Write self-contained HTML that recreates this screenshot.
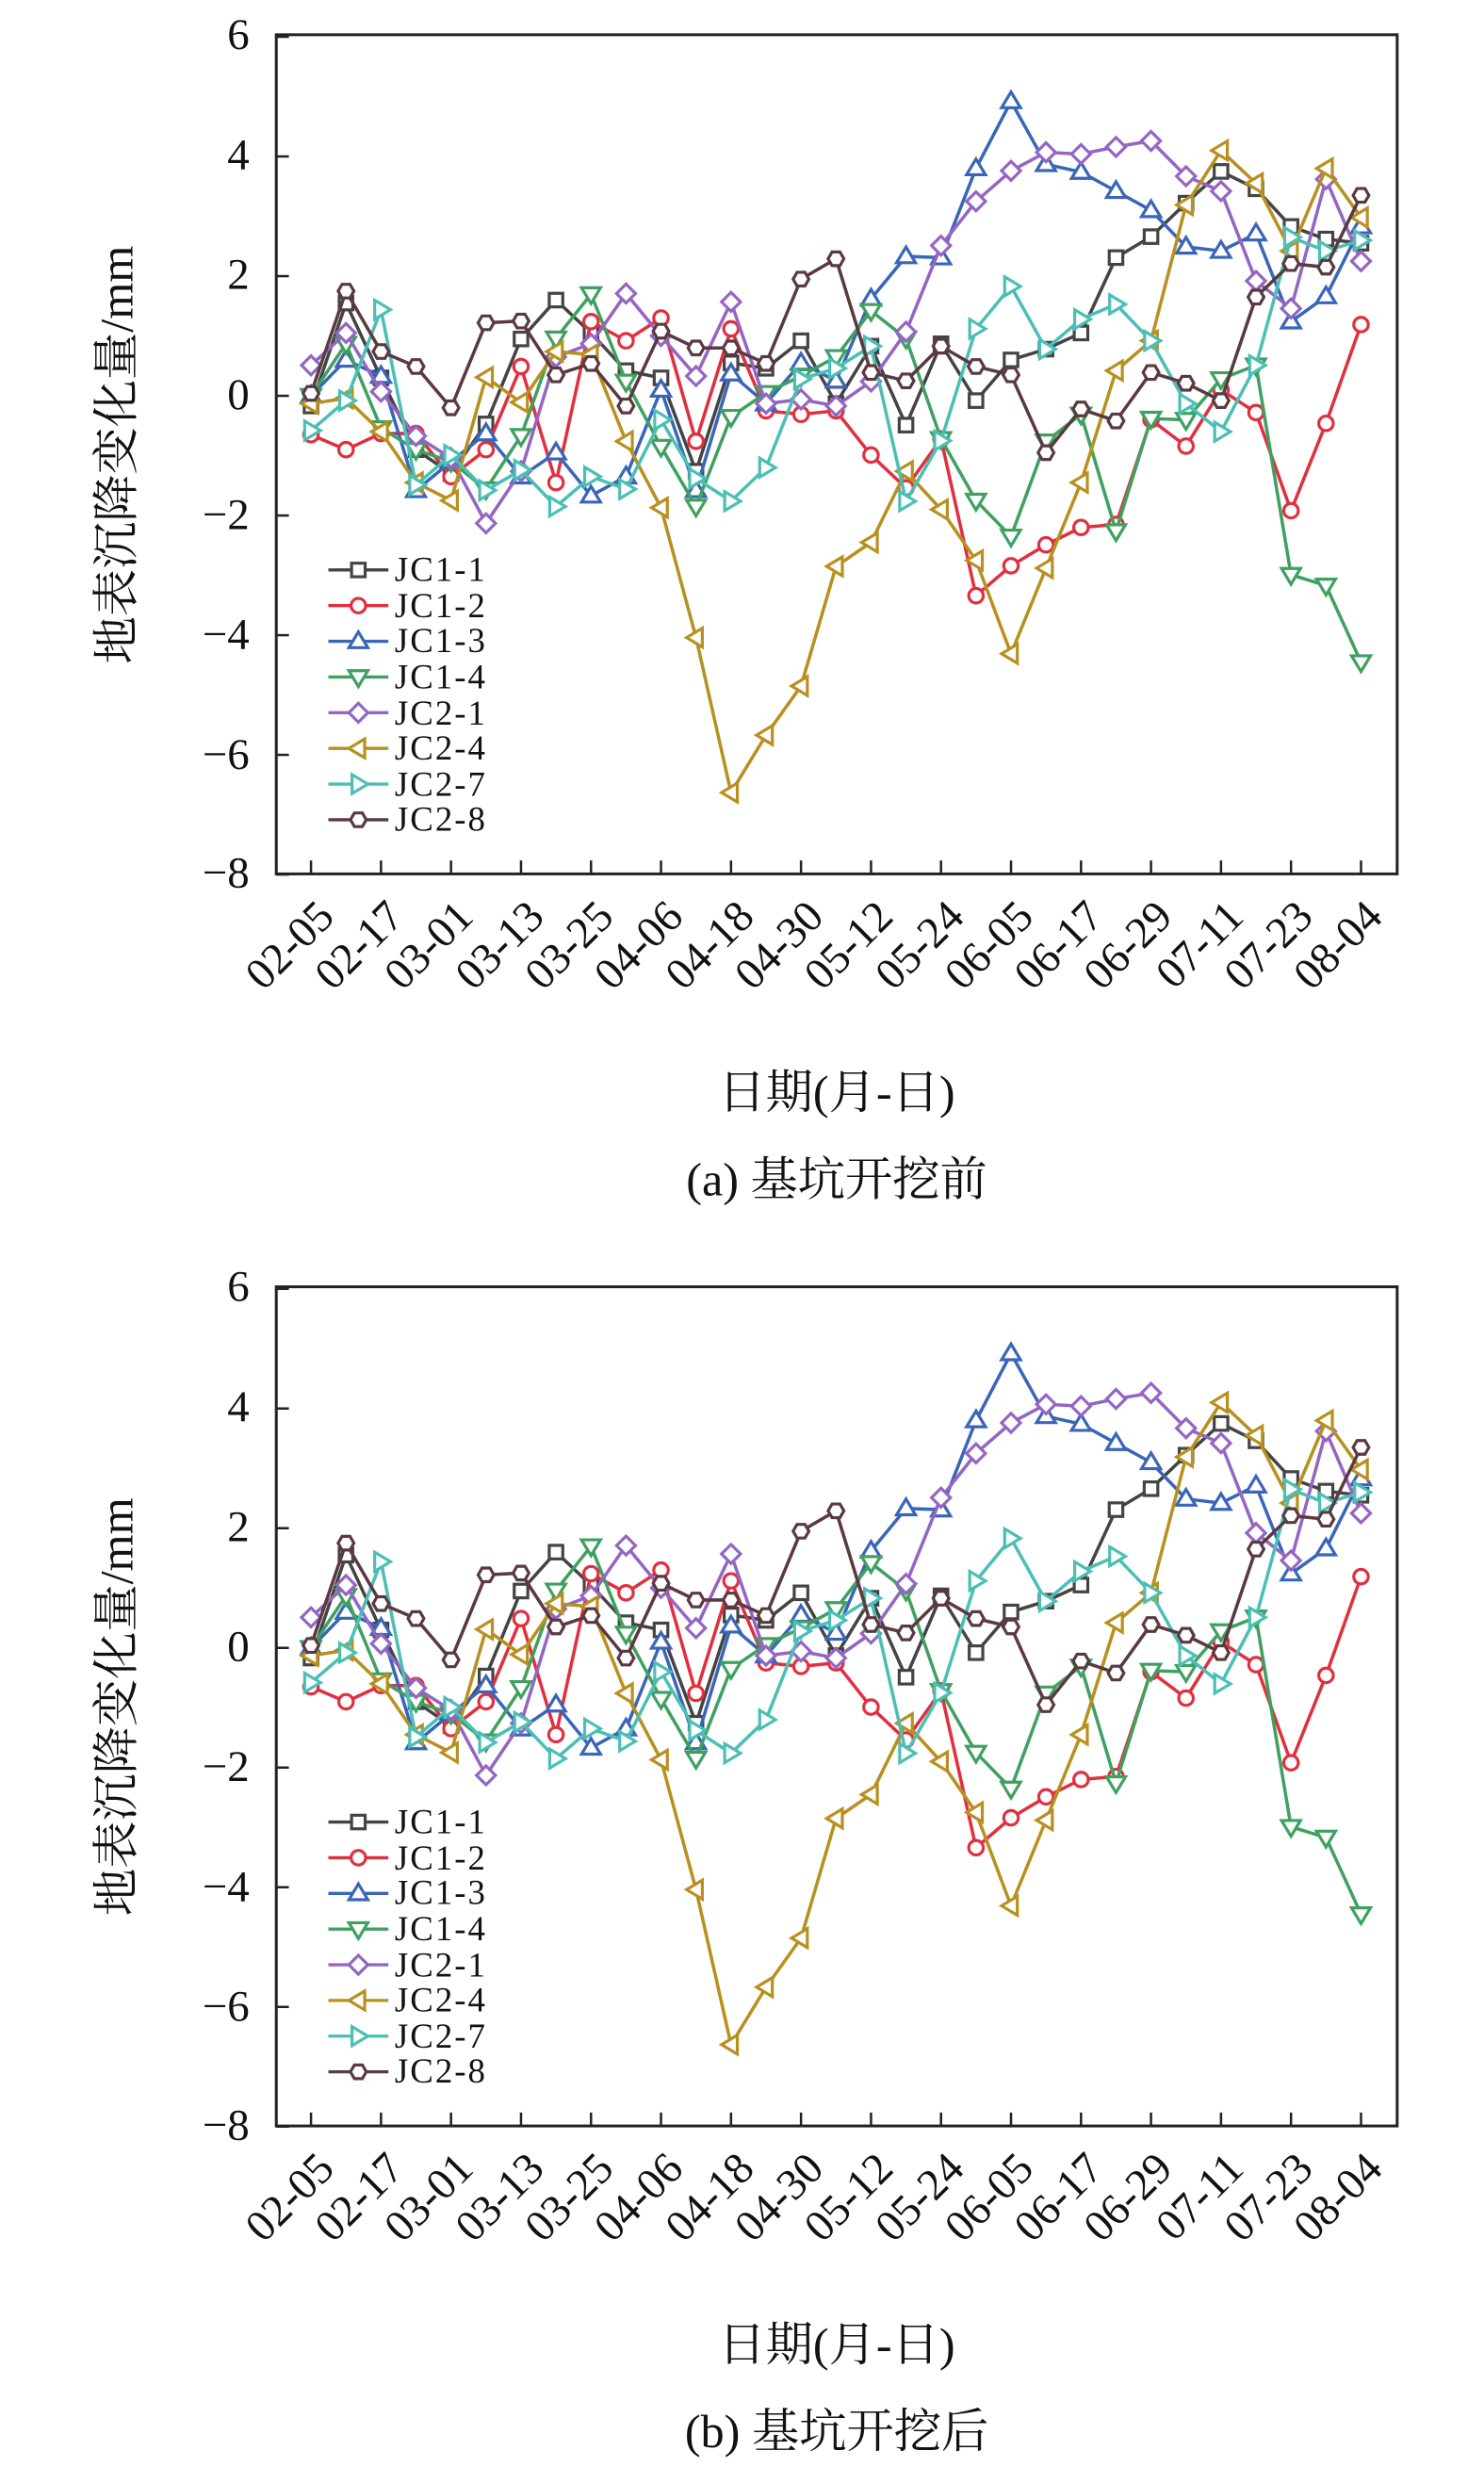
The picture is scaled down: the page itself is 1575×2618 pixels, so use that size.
<!DOCTYPE html>
<html><head><meta charset="utf-8">
<style>
html,body{margin:0;padding:0;background:#fff;}
svg{display:block;}
text{font-family:"Liberation Serif","Noto Serif CJK SC","Noto Sans CJK SC",serif;fill:#111;}
</style></head>
<body>
<svg id="s" width="1575" height="2618" viewBox="0 0 940 1562.5" xmlns="http://www.w3.org/2000/svg">
<g id="A">
<rect x="175" y="22" width="710" height="531.5" fill="none" stroke="#222" stroke-width="1.8"/>
<g font-size="28" text-anchor="end">
<text x="158" y="31">6</text><text x="158" y="107">4</text><text x="158" y="183">2</text><text x="158" y="259">0</text>
<text x="158" y="335">−2</text><text x="158" y="411">−4</text><text x="158" y="487">−6</text><text x="158" y="562">−8</text>
</g>
<g font-size="28" text-anchor="end">
<text transform="translate(213,582) rotate(-45)">02-05</text>
<text transform="translate(257,582) rotate(-45)">02-17</text>
<text transform="translate(301,582) rotate(-45)">03-01</text>
<text transform="translate(346,582) rotate(-45)">03-13</text>
<text transform="translate(390,582) rotate(-45)">03-25</text>
<text transform="translate(434,582) rotate(-45)">04-06</text>
<text transform="translate(479,582) rotate(-45)">04-18</text>
<text transform="translate(523,582) rotate(-45)">04-30</text>
<text transform="translate(567,582) rotate(-45)">05-12</text>
<text transform="translate(612,582) rotate(-45)">05-24</text>
<text transform="translate(656,582) rotate(-45)">06-05</text>
<text transform="translate(700,582) rotate(-45)">06-17</text>
<text transform="translate(744,582) rotate(-45)">06-29</text>
<text transform="translate(789,582) rotate(-45)">07-11</text>
<text transform="translate(833,582) rotate(-45)">07-23</text>
<text transform="translate(877,582) rotate(-45)">08-04</text>
</g>
<text transform="translate(84,288) rotate(-90)" font-size="30" text-anchor="middle">地表沉降变化量/mm</text>
<text x="530" y="702" font-size="30" text-anchor="middle">日期(月-日)</text>
<g font-size="22" letter-spacing="1.2">
<text x="250" y="368">JC1-1</text><text x="250" y="391">JC1-2</text><text x="250" y="413">JC1-3</text><text x="250" y="436">JC1-4</text>
<text x="250" y="459">JC2-1</text><text x="250" y="481">JC2-4</text><text x="250" y="504">JC2-7</text><text x="250" y="526">JC2-8</text>
</g>
</g>
<text x="530" y="757" font-size="30" text-anchor="middle">(a) 基坑开挖前</text>
<g transform="translate(0,793)">
<rect x="175" y="22" width="710" height="531.5" fill="none" stroke="#222" stroke-width="1.8"/>
<g font-size="28" text-anchor="end">
<text x="158" y="31">6</text><text x="158" y="107">4</text><text x="158" y="183">2</text><text x="158" y="259">0</text>
<text x="158" y="335">−2</text><text x="158" y="411">−4</text><text x="158" y="487">−6</text><text x="158" y="562">−8</text>
</g>
<g font-size="28" text-anchor="end">
<text transform="translate(213,582) rotate(-45)">02-05</text>
<text transform="translate(257,582) rotate(-45)">02-17</text>
<text transform="translate(301,582) rotate(-45)">03-01</text>
<text transform="translate(346,582) rotate(-45)">03-13</text>
<text transform="translate(390,582) rotate(-45)">03-25</text>
<text transform="translate(434,582) rotate(-45)">04-06</text>
<text transform="translate(479,582) rotate(-45)">04-18</text>
<text transform="translate(523,582) rotate(-45)">04-30</text>
<text transform="translate(567,582) rotate(-45)">05-12</text>
<text transform="translate(612,582) rotate(-45)">05-24</text>
<text transform="translate(656,582) rotate(-45)">06-05</text>
<text transform="translate(700,582) rotate(-45)">06-17</text>
<text transform="translate(744,582) rotate(-45)">06-29</text>
<text transform="translate(789,582) rotate(-45)">07-11</text>
<text transform="translate(833,582) rotate(-45)">07-23</text>
<text transform="translate(877,582) rotate(-45)">08-04</text>
</g>
<text transform="translate(84,288) rotate(-90)" font-size="30" text-anchor="middle">地表沉降变化量/mm</text>
<text x="530" y="702" font-size="30" text-anchor="middle">日期(月-日)</text>
<g font-size="22" letter-spacing="1.2">
<text x="250" y="368">JC1-1</text><text x="250" y="391">JC1-2</text><text x="250" y="413">JC1-3</text><text x="250" y="436">JC1-4</text>
<text x="250" y="459">JC2-1</text><text x="250" y="481">JC2-4</text><text x="250" y="504">JC2-7</text><text x="250" y="526">JC2-8</text>
</g>
</g>
<text x="530" y="1550" font-size="30" text-anchor="middle">(b) 基坑开挖后</text>
<g id="plots"></g>
</svg>
<script>
var S=[
["#444","sq",[-0.17,1.55,0.3,-0.9,-1.3,-0.47,0.95,1.6,1.05,0.42,0.3,-1.26,0.55,0.46,0.92,-0.13,0.83,-0.49,0.87,-0.08,0.6,0.78,1.05,2.31,2.66,3.22,3.75,3.46,2.83,2.62,2.55]],
["#e0303f","ci",[-0.65,-0.9,-0.63,-0.63,-1.35,-0.9,0.49,-1.45,1.24,0.92,1.3,-0.76,1.12,-0.25,-0.31,-0.25,-0.99,-1.54,-0.72,-3.34,-2.84,-2.49,-2.2,-2.15,-0.4,-0.84,0.1,-0.28,-1.92,-0.46,1.19]],
["#3a65b8","tu",[0,0.6,0.33,-1.58,-1.1,-0.63,-1.35,-0.95,-1.67,-1.35,0.1,-1.58,0.37,-0.13,0.55,0.25,1.62,2.33,2.31,3.8,4.92,3.87,3.74,3.42,3.1,2.49,2.42,2.71,1.24,1.66,2.83]],
["#3fa060","td",[0,0.87,-0.54,-0.9,-1.1,-1.56,-0.67,0.96,1.7,0.24,-0.85,-1.85,-0.35,0.05,0.33,0.65,1.42,0.96,-0.72,-1.75,-2.35,-0.76,-0.31,-2.26,-0.38,-0.4,0.28,0.51,-2.99,-3.17,-4.45]],
["#9466c2","di",[0.51,1.05,0.07,-0.67,-1.04,-2.13,-1.26,0.65,0.87,1.71,1.0,0.33,1.57,-0.13,-0.06,-0.17,0.24,1.07,2.51,3.25,3.76,4.07,4.04,4.16,4.26,3.67,3.42,1.92,1.46,3.62,2.25]],
["#b8901f","tl",[-0.13,-0.04,-0.6,-1.45,-1.75,0.31,-0.11,0.74,0.69,-0.76,-1.87,-4.04,-6.63,-5.67,-4.85,-2.85,-2.45,-1.26,-1.9,-2.75,-4.31,-2.88,-1.45,0.42,0.92,3.19,4.1,3.55,2.42,3.8,2.98]],
["#4bbfb5","tr",[-0.58,-0.08,1.44,-1.49,-0.99,-1.58,-1.24,-1.85,-1.35,-1.56,-0.4,-1.38,-1.76,-1.2,0.28,0.46,0.83,-1.76,-0.75,1.12,1.83,0.78,1.28,1.53,0.92,-0.13,-0.6,0.51,2.65,2.42,2.6]],
["#5a3a40","hx",[0.04,1.75,0.74,0.49,-0.2,1.22,1.25,0.35,0.54,-0.17,1.08,0.8,0.8,0.54,1.95,2.29,0.39,0.25,0.83,0.49,0.35,-0.95,-0.22,-0.42,0.39,0.21,-0.08,1.65,2.21,2.15,3.35]]
];
function mk(t,x,y,c){var p;
 if(t=="sq")return '<rect x="'+(x-4.3)+'" y="'+(y-4.3)+'" width="8.6" height="8.6" fill="#fff" stroke="'+c+'" stroke-width="1.9"/>';
 if(t=="ci")return '<circle cx="'+x+'" cy="'+y+'" r="4.6" fill="#fff" stroke="'+c+'" stroke-width="1.9"/>';
 if(t=="hx"){p=[];for(var k=0;k<6;k++){var a=k*Math.PI/3;p.push((x+5*Math.cos(a))+','+(y+5*Math.sin(a)));}}
 if(t=="tu")p=[x+','+(y-6),(x+6)+','+(y+4),(x-6)+','+(y+4)];
 if(t=="td")p=[x+','+(y+6),(x+6)+','+(y-4),(x-6)+','+(y-4)];
 if(t=="tl")p=[(x-6)+','+y,(x+4)+','+(y-6),(x+4)+','+(y+6)];
 if(t=="tr")p=[(x+6)+','+y,(x-4)+','+(y-6),(x-4)+','+(y+6)];
 if(t=="di")p=[x+','+(y-6),(x+6)+','+y,x+','+(y+6),(x-6)+','+y];
 return '<polygon points="'+p.join(' ')+'" fill="#fff" stroke="'+c+'" stroke-width="1.9"/>';}
var h='';
[0,793].forEach(function(dy){
 var z=250.7+dy,u=37.9;
 for(var v=-8;v<=6;v+=2){var y=z-v*u;h+='<line x1="175" x2="183" y1="'+y+'" y2="'+y+'" stroke="#222" stroke-width="1.5"/>';}
 for(var i=0;i<31;i+=2){var x=197+i*22.17;h+='<line x1="'+x+'" x2="'+x+'" y1="'+(553.5+dy)+'" y2="'+(545+dy)+'" stroke="#222" stroke-width="1.5"/>';}
 S.forEach(function(s,k){var pts=s[2].map(function(v,i){return [197+i*22.17,z-v*u];});
  h+='<polyline fill="none" stroke="'+s[0]+'" stroke-width="2.1" points="'+pts.map(function(p){return p.join(',')}).join(' ')+'"/>';
  pts.forEach(function(p){h+=mk(s[1],p[0],p[1],s[0]);});
  var ly=361+k*22.6+dy;
  h+='<line x1="208" x2="246" y1="'+ly+'" y2="'+ly+'" stroke="'+s[0]+'" stroke-width="2"/>'+mk(s[1],227,ly,s[0]);
 });
});
document.getElementById('plots').innerHTML=h;
</script>
</body></html>
